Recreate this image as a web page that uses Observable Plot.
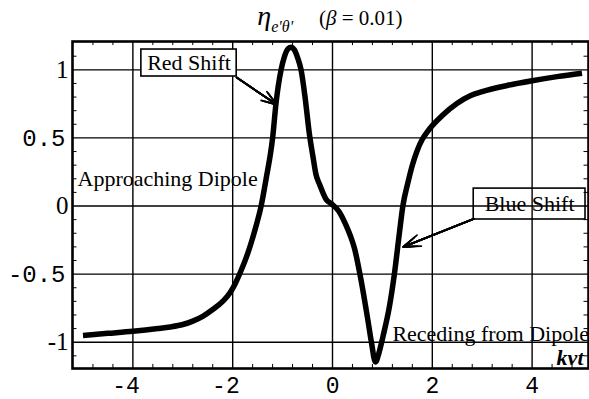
<!DOCTYPE html>
<html>
<head>
<meta charset="utf-8">
<script src="https://cdn.jsdelivr.net/npm/d3@7"></script>
<script src="https://cdn.jsdelivr.net/npm/@observablehq/plot@0.6"></script>
<style>
  html, body { margin: 0; padding: 0; background: white; }
  #chart { width: 589px; height: 399px; }
</style>
</head>
<body>
<div id="chart"></div>
<script>
// ---- curve data (kvt, eta) ----
const kvt = [-5, -4.5, -4, -3.5, -3.25, -3, -2.8, -2.6, -2.4, -2.2, -2.05, -1.95, -1.85, -1.7, -1.55, -1.43, -1.33, -1.2, -1.13, -1.03, -0.96, -0.89, -0.83, -0.77, -0.7, -0.63, -0.55, -0.46, -0.39, -0.33, -0.26, -0.13, 0, 0.13, 0.27, 0.36, 0.44, 0.57, 0.71, 0.78, 0.86, 0.93, 1.01, 1.14, 1.24, 1.34, 1.41, 1.51, 1.6, 1.7, 1.8, 1.9, 2, 2.2, 2.5, 2.76, 3, 3.5, 4, 4.5, 5];
const eta = [-0.95, -0.935, -0.92, -0.9, -0.888, -0.87, -0.845, -0.81, -0.76, -0.7, -0.635, -0.57, -0.49, -0.35, -0.17, 0, 0.2, 0.5, 0.76, 1.0, 1.1, 1.155, 1.165, 1.15, 1.09, 1.0, 0.8, 0.52, 0.36, 0.23, 0.16, 0.05, 0.01, -0.04, -0.14, -0.22, -0.31, -0.54, -0.84, -1.0, -1.145, -1.08, -0.96, -0.74, -0.5, -0.2, 0, 0.17, 0.3, 0.41, 0.49, 0.545, 0.59, 0.665, 0.755, 0.81, 0.84, 0.885, 0.92, 0.95, 0.975];

// ---- ticks ----
const xTicks = [-4, -2, 0, 2, 4];
const xTickLabels = ["-4", "-2", "0", "2", "4"];
const yIntTicks = [-1, 0, 1];
const yIntLabels = ["-1", "0", "1"];
const yDecTicks = [-0.5, 0.5];
const yDecLabels = ["-0.5", "0.5"];
const yTicks = [-1, -0.5, 0, 0.5, 1];
const xMinor = [-4.8, -4.4, -3.6, -3.2, -2.8, -2.4, -1.6, -1.2, -0.8, -0.4, 0.4, 0.8, 1.2, 1.6, 2.4, 2.8, 3.2, 3.6, 4.4, 4.8];
const yMinor = [-1.1, -0.9, -0.8, -0.7, -0.6, -0.4, -0.3, -0.2, -0.1, 0.1, 0.2, 0.3, 0.4, 0.6, 0.7, 0.8, 0.9, 1.1];

// ---- annotations ----
const noteText = ["Approaching Dipole", "Receding from Dipole"];
const noteX = [-5.11, 1.2];
const noteY = [0.2, -0.94];

const boxText = ["Red Shift", "Blue Shift"];
const boxX1 = [-3.83, 2.83];
const boxX2 = [-1.92, 5.07];
const boxY1 = [0.951, -0.099];
const boxY2 = [1.149, 0.128];
const boxFill = ["white", "none"];

const arrowX1 = [-1.92, 2.83];
const arrowY1 = [0.943, -0.095];
const arrowX2 = [-1.12, 1.42];
const arrowY2 = [0.745, -0.30];

const axisLabel = ["kvt"];
const axisLabelX = [5.03];
const axisLabelY = [-1.112];

// ---- build tables ----
const curve = kvt.map((x, i) => ({x, y: eta[i]}));
const notes = noteText.map((t, i) => ({t, x: noteX[i], y: noteY[i]}));
const boxes = boxText.map((t, i) => ({t, x1: boxX1[i], x2: boxX2[i], y1: boxY1[i], y2: boxY2[i], fill: boxFill[i]}));
const arrows = arrowX1.map((x1, i) => ({x1, y1: arrowY1[i], x2: arrowX2[i], y2: arrowY2[i]}));
const xLab = xTicks.map((v, i) => ({v, t: xTickLabels[i]}));
const yIntLab = yIntTicks.map((v, i) => ({v, t: yIntLabels[i]}));
const yDecLab = yDecTicks.map((v, i) => ({v, t: yDecLabels[i]}));
const axLab = axisLabel.map((t, i) => ({t, x: axisLabelX[i], y: axisLabelY[i]}));

const xDom = [-5.21, 5.13];
const yDom = [-1.193, 1.208];

const arrowMarks = [15, 12, 9, 6, 3].map(L =>
  Plot.arrow(arrows, {x1: "x1", y1: "y1", x2: "x2", y2: "y2", stroke: "black", strokeWidth: 1.8, headLength: L, headAngle: 38})
);

const plot = Plot.plot({
  width: 589,
  height: 399,
  marginLeft: 72,
  marginRight: 1,
  marginTop: 41,
  marginBottom: 31,
  x: {domain: xDom, axis: null},
  y: {domain: yDom, axis: null},
  style: {fontFamily: "Liberation Serif", background: "white", color: "black", overflow: "visible"},
  marks: [
    Plot.gridX(xTicks, {stroke: "black", strokeOpacity: 1, strokeWidth: 1.4}),
    Plot.gridY(yTicks, {stroke: "black", strokeOpacity: 1, strokeWidth: 1.4}),
    Plot.ruleX(xMinor, {x: d => d, y1: yDom[0], y2: yDom[0] + 0.03, stroke: "black", strokeWidth: 1}),
    Plot.ruleX(xMinor, {x: d => d, y1: yDom[1], y2: yDom[1] - 0.03, stroke: "black", strokeWidth: 1}),
    Plot.ruleY(yMinor, {y: d => d, x1: xDom[0], x2: xDom[0] + 0.09, stroke: "black", strokeWidth: 1}),
    Plot.ruleY(yMinor, {y: d => d, x1: xDom[1], x2: xDom[1] - 0.09, stroke: "black", strokeWidth: 1}),
    Plot.rect(boxes, {x1: "x1", x2: "x2", y1: "y1", y2: "y2", fill: d => d.fill, stroke: "black", strokeWidth: 1.6}),
    Plot.line(curve, {x: "x", y: "y", stroke: "black", strokeWidth: 5.5, curve: "monotone-x", strokeLinejoin: "round", strokeLinecap: "butt"}),
    ...arrowMarks,
    Plot.text(boxes, {x: d => (d.x1 + d.x2) / 2, y: d => (d.y1 + d.y2) / 2, text: "t", fontSize: 22, fill: "black", lineAnchor: "middle"}),
    Plot.text(notes, {x: "x", y: "y", text: "t", textAnchor: "start", fontSize: 22, fill: "black", lineAnchor: "middle"}),
    Plot.text(axLab, {x: "x", y: "y", text: "t", textAnchor: "end", fontSize: 22, fontWeight: "bold", fontStyle: "italic", fill: "black", lineAnchor: "middle"}),
    Plot.text(xLab, {x: "v", frameAnchor: "bottom", dy: 17, dx: 7, textAnchor: "end", text: "t", fontFamily: "Liberation Mono", fontSize: 23, fill: "black", lineAnchor: "middle"}),
    Plot.text(yIntLab, {y: "v", frameAnchor: "left", dx: -4, text: "t", textAnchor: "end", fontFamily: "Liberation Serif", fontSize: 25, fill: "black", lineAnchor: "middle"}),
    Plot.text(yDecLab, {y: "v", frameAnchor: "left", dx: -7, text: "t", textAnchor: "end", fontFamily: "Liberation Mono", fontSize: 24, fill: "black", lineAnchor: "middle"}),
    Plot.frame({stroke: "black", strokeWidth: 2.6})
  ]
});

// title: eta_{e'theta'}  (beta = 0.01)
const svg = d3.select(plot);
const cx = (72 + 588) / 2;
const title = svg.append("text")
  .attr("x", cx)
  .attr("y", 25)
  .attr("text-anchor", "middle")
  .style("font-family", "Liberation Serif")
  .style("fill", "black");
title.append("tspan").style("font-style", "italic").style("font-size", "28px").text("η");
title.append("tspan").style("font-style", "italic").style("font-size", "16px").attr("dy", 7).text("e'θ'");
title.append("tspan").style("font-size", "21px").attr("dy", -7).attr("dx", 26).text("(");
title.append("tspan").style("font-size", "21px").style("font-style", "italic").text("β");
title.append("tspan").style("font-size", "21px").text(" = 0.01)");

document.getElementById("chart").appendChild(plot);
</script>
</body>
</html>
